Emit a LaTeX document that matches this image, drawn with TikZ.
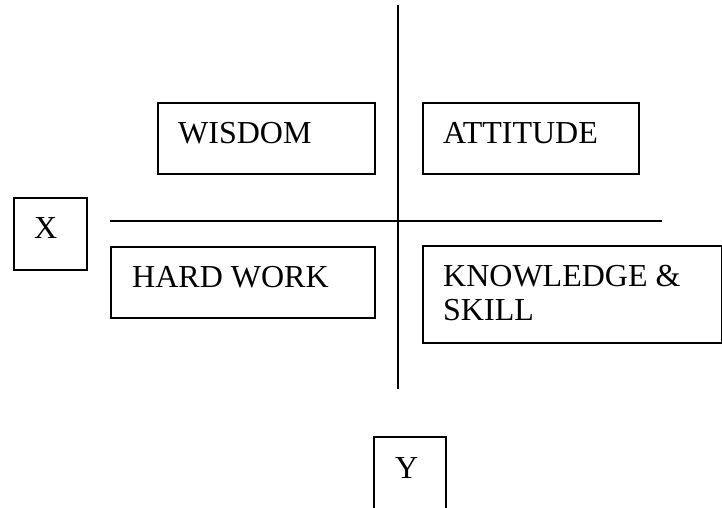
\documentclass[tikz,border=0pt]{standalone}
\usepackage{fontspec}
\setmainfont{Liberation Serif}
\begin{document}
\begin{tikzpicture}[x=1pt,y=-1pt,
  boxline/.style={draw=black,line width=1.6pt},
  frame/.style={boxline,rectangle,inner sep=0pt,anchor=north west},
  lbl/.style={anchor=base west,inner sep=0pt,font=\fontsize{32}{34}\selectfont,align=left},
  axis/.style={draw=black,line width=1.6pt}]
\useasboundingbox (0,0) rectangle (722,508);
% axes
\coordinate (vt) at (398,5);
\coordinate (vb) at (398,389);
\coordinate (hl) at (110,221);
\coordinate (hr) at (662,221);
\draw[axis] (vt) -- (vb);
\draw[axis] (hl) -- (hr);
% boxes
\node[frame,minimum width=217pt,minimum height=71pt] (wisdom) at (157,102) {};
\node[lbl] at ([xshift=21pt,yshift=-41pt]wisdom.north west) {WISDOM};
\node[frame,minimum width=216pt,minimum height=71pt] (attitude) at (422,102) {};
\node[lbl] at ([xshift=21pt,yshift=-41pt]attitude.north west) {ATTITUDE};
\node[frame,minimum width=73pt,minimum height=72pt] (xbox) at (13,197) {};
\node[lbl] at ([xshift=21pt,yshift=-41pt]xbox.north west) {X};
\node[frame,minimum width=264pt,minimum height=71pt] (hard) at (110,246) {};
\node[lbl] at ([xshift=22pt,yshift=-41pt]hard.north west) {HARD WORK};
\node[frame,minimum width=299pt,minimum height=97pt] (know) at (422,245) {};
\node[lbl] at ([xshift=21pt,yshift=-75pt]know.north west) {KNOWLEDGE \&\\SKILL};
% Y box (bottom cut off by the page)
\coordinate (ybl) at (374,530);
\coordinate (ytl) at (374,437);
\coordinate (ytr) at (446,437);
\coordinate (ybr) at (446,530);
\draw[boxline] (ybl) -- (ytl) -- (ytr) -- (ybr);
\node[lbl] (ylab) at (395,478) {Y};
\end{tikzpicture}
\end{document}
